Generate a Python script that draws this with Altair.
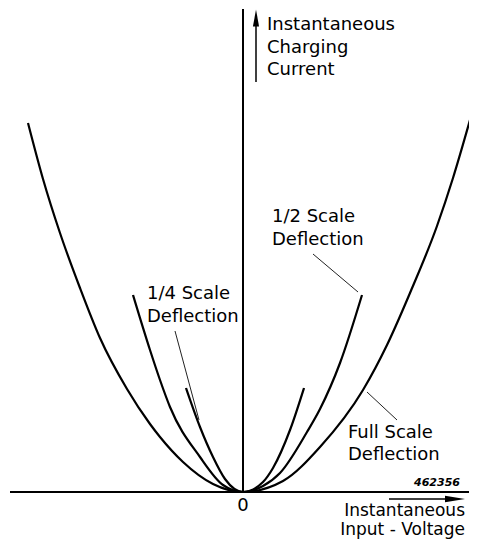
import altair as alt
import pandas as pd

# ---- curve data (x: instantaneous input voltage, y: charging current; arbitrary units) ----
full_x = [-215, -200, -183, -163, -143, -116, -93, -83, -60, -30, 0, 40, 77, 120, 144, 167, 194, 210, 227]
full_y = [369, 313, 259, 204, 154, 103, 68, 55, 30, 8, 0, 11, 45, 102, 147, 199, 266, 314, 372]

half_x = [-110, -93, -83, -73, -43, -20, 0, 20, 37, 64, 77, 97, 119]
half_y = [197, 142, 112, 85, 35, 7, 0, 6, 19, 60, 83, 129, 197]

quarter_x = [-57, -43, -30, -18, 0, 20, 30, 47, 61]
quarter_y = [104, 65, 35, 13, 0, 10, 24, 62, 104]

# ---- text labels ----
label_text = ["Instantaneous", "Charging", "Current", "1/2 Scale", "Deflection",
              "1/4 Scale", "Deflection", "Full Scale", "Deflection"]
label_x = [24, 24, 24, 29, 29, -96, -96, 105, 105]
label_y = [467, 444, 422, 275, 252, 198, 175, 59, 37]

xlabel_text = ["Instantaneous", "Input - Voltage"]
xlabel_x = [222, 222]
xlabel_y = [-19, -38]

origin_text = ["0"]
origin_x = [0]
origin_y = [-14]

ref_text = ["462356"]
ref_x = [217]
ref_y = [9]

# ---- leader lines (label -> curve) ----
lead_x1 = [70, -68, 124]
lead_y1 = [238, 161, 100]
lead_x2 = [115, -44, 154]
lead_y2 = [200, 72, 72]

# ---- axes and arrows ----
axis_x1 = [-233, 0]
axis_y1 = [0, 0]
axis_x2 = [226, 0]
axis_y2 = [0, 483]

arrow_x1 = [13, 146]
arrow_y1 = [410, -7]
arrow_x2 = [13, 205]
arrow_y2 = [470, -7]

head_up_x = [13]
head_up_y = [474]
head_right_x = [212]
head_right_y = [-7]

XD = [-235, 226]
YD = [-47, 484]
W, H = 461, 531
FONT = "DejaVu Sans"

xs = alt.Scale(domain=XD, nice=False, zero=False)
ys = alt.Scale(domain=YD, nice=False, zero=False)

curves = pd.DataFrame(
    [{"series": "Full", "x": a, "y": b} for a, b in zip(full_x, full_y)]
    + [{"series": "Half", "x": a, "y": b} for a, b in zip(half_x, half_y)]
    + [{"series": "Quarter", "x": a, "y": b} for a, b in zip(quarter_x, quarter_y)]
)

curve_layer = alt.Chart(curves).mark_line(
    interpolate="monotone", color="black", strokeWidth=2.2, clip=False
).encode(
    x=alt.X("x:Q", scale=xs, axis=None),
    y=alt.Y("y:Q", scale=ys, axis=None),
    detail="series:N",
    order="x:Q",
)

def rules(x1, y1, x2, y2, width, color="black"):
    df = pd.DataFrame({"x": x1, "y": y1, "x2": x2, "y2": y2})
    return alt.Chart(df).mark_rule(color=color, strokeWidth=width).encode(
        x=alt.X("x:Q", scale=xs, axis=None),
        y=alt.Y("y:Q", scale=ys, axis=None),
        x2="x2:Q",
        y2="y2:Q",
    )

axis_layer = rules(axis_x1, axis_y1, axis_x2, axis_y2, 2)
arrow_layer = rules(arrow_x1, arrow_y1, arrow_x2, arrow_y2, 1.5)
lead_layer = rules(lead_x1, lead_y1, lead_x2, lead_y2, 1, "#222222")

def head(xv, yv, shape, size):
    df = pd.DataFrame({"x": xv, "y": yv})
    return alt.Chart(df).mark_point(
        shape=shape, filled=True, size=size, color="black", opacity=1, strokeWidth=0
    ).encode(
        x=alt.X("x:Q", scale=xs, axis=None),
        y=alt.Y("y:Q", scale=ys, axis=None),
    )

head_up = head(head_up_x, head_up_y, "M0,-1L0.36,1L-0.36,1Z", 289)
head_right = head(head_right_x, head_right_y, "M1,0L-1,-0.32L-1,0.32Z", 400)

def texts(t, xv, yv, align, size=18, style="normal", weight="normal"):
    df = pd.DataFrame({"t": t, "x": xv, "y": yv})
    return alt.Chart(df).mark_text(
        align=align, baseline="middle", font=FONT, fontSize=size,
        fontStyle=style, fontWeight=weight, color="black"
    ).encode(
        x=alt.X("x:Q", scale=xs, axis=None),
        y=alt.Y("y:Q", scale=ys, axis=None),
        text="t:N",
    )

label_layer = texts(label_text, label_x, label_y, "left")
xlabel_layer = texts(xlabel_text, xlabel_x, xlabel_y, "right", size=17)
origin_layer = texts(origin_text, origin_x, origin_y, "center")
ref_layer = texts(ref_text, ref_x, ref_y, "right", size=11, style="italic", weight="bold")

chart = alt.layer(
    axis_layer, curve_layer, lead_layer, arrow_layer, head_up, head_right,
    label_layer, xlabel_layer, origin_layer, ref_layer
).properties(
    width=W, height=H, autosize=alt.AutoSizeParams(type="none"), padding=0,
    background="white"
).configure_view(stroke=None)

chart.save("out.html", embed_options={"renderer": "svg", "actions": False})
